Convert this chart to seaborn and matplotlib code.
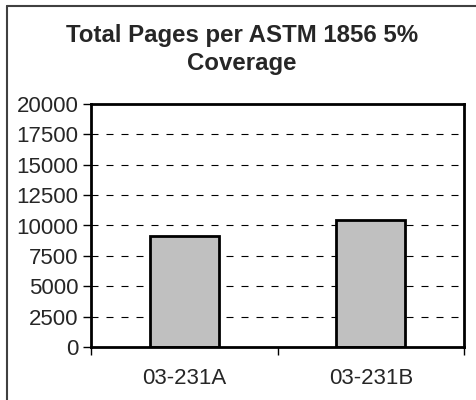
import matplotlib
matplotlib.use('Agg')
import matplotlib.pyplot as plt
import seaborn as sns
import pandas as pd
from matplotlib.lines import Line2D

categorias = ['03-231A', '03-231B']
paginas = [9150, 10450]
yticks = [0, 2500, 5000, 7500, 10000, 12500, 15000, 17500, 20000]

df = pd.DataFrame({'muestra': categorias, 'paginas': paginas})

sns.set_style('white')
plt.rcParams['font.family'] = ['Liberation Sans', 'DejaVu Sans']

fig = plt.figure(figsize=(4.76, 4.0), dpi=100)
ax = fig.add_axes([91/476, 1 - 347/400, (464-91)/476, (347-104)/400])

sns.barplot(data=df, x='muestra', y='paginas', color='#c0c0c0',
            edgecolor='black', linewidth=2, width=0.37, saturation=1, ax=ax)

ax.set_xlim(-0.5, 1.5)
ax.set_ylim(0, 20000)
ax.set_yticks(yticks)
ax.set_yticklabels([str(v) for v in yticks], fontsize=16)
ax.set_xticks([-0.5, 0.5, 1.5], minor=False)
ax.set_xticklabels(['', '', ''])
ax.set_xticks([0, 1], minor=True)
ax.set_xticklabels(categorias, minor=True, fontsize=16)
ax.tick_params(axis='x', which='minor', length=0, pad=15)
ax.tick_params(axis='x', which='major', direction='out', length=6, width=1, color='black', bottom=True)
ax.tick_params(axis='y', direction='out', length=6, width=1, color='black', left=True, pad=3)
ax.set_xlabel('')
ax.set_ylabel('')

for v in yticks[1:-1]:
    ax.axhline(v, color='black', linestyle=(0, (6.3, 7.2)), linewidth=0.8, zorder=0)

for s in ax.spines.values():
    s.set_visible(True)
    s.set_color('black')
    s.set_linewidth(2)

fig.text(0.508, 1 - 42/400, 'Total Pages per ASTM 1856 5%', ha='center', va='baseline',
         fontsize=17.3, fontweight='bold')
fig.text(0.508, 1 - 70/400, 'Coverage', ha='center', va='baseline',
         fontsize=17.3, fontweight='bold')

# marco exterior (solo izquierda y arriba visibles)
fig.add_artist(Line2D([7/476, 7/476], [0, 1 - 6/400], color='#404040', linewidth=1.5,
                      transform=fig.transFigure))
fig.add_artist(Line2D([7/476, 1], [1 - 6/400, 1 - 6/400], color='#404040', linewidth=1.5,
                      transform=fig.transFigure))

fig.savefig('out.png', dpi=100)
